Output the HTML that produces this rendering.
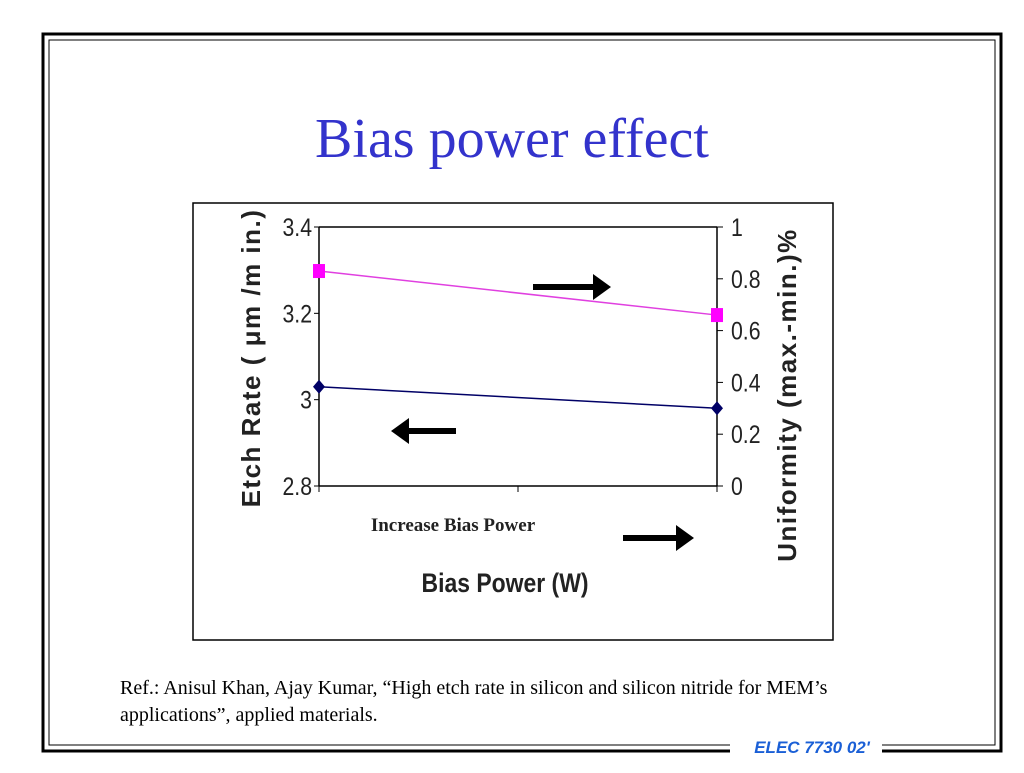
<!DOCTYPE html>
<html><head><meta charset="utf-8"><style>
body{margin:0;width:1024px;height:768px;background:#fff;overflow:hidden;font-family:"Liberation Sans",sans-serif}
</style></head><body>
<svg width="1024" height="768">
<rect x="43" y="34" width="958" height="717" fill="none" stroke="#000" stroke-width="3"/>
<rect x="49" y="40" width="946" height="705" fill="none" stroke="#000" stroke-width="1"/>
<rect x="730" y="738" width="152" height="20" fill="#fff"/>
<text x="812" y="753" text-anchor="middle" font-size="17" font-weight="bold" font-style="italic" fill="#1a5fd6">ELEC 7730 02'</text>
<text x="512" y="157" text-anchor="middle" font-family="Liberation Serif,serif" font-size="56" fill="#3333cc">Bias power effect</text>
<rect x="193" y="203" width="640" height="437" fill="none" stroke="#000" stroke-width="1.5"/>
<g id="chart"></g>
<text font-family="Liberation Serif,serif" font-size="20" fill="#000"><tspan x="120" y="694">Ref.: Anisul Khan, Ajay Kumar, “High etch rate in silicon and silicon nitride for MEM’s</tspan><tspan x="120" y="721">applications”, applied materials.</tspan></text>
</svg>
<script>
const categories=["Low","High"];
const etchRate=[3.03,2.98];
const uniformity=[0.83,0.66];
const leftTicks=[2.8,3.0,3.2,3.4];
const leftTickLabels=["2.8","3","3.2","3.4"];
const rightTicks=[0,0.2,0.4,0.6,0.8,1];
const rightTickLabels=["0","0.2","0.4","0.6","0.8","1"];
const NS="http://www.w3.org/2000/svg";
const g=document.getElementById('chart');
const X0=319,X1=717,YT=227,YB=486;
const xs=i=>X0+(X1-X0)*i/(categories.length-1);
const yl=v=>YB-(v-2.8)/(3.4-2.8)*(YB-YT);
const yr=v=>YB-v*(YB-YT);
function mk(t,a){const e=document.createElementNS(NS,t);for(const k in a)e.setAttribute(k,a[k]);g.appendChild(e);return e;}
let e;
e=mk('line',{x1:X0,y1:YT,x2:X1,y2:YT,stroke:'#000','stroke-width':1.5});


e=mk('line',{x1:X0,y1:YT,x2:X0,y2:YB,stroke:'#000','stroke-width':1.5});


e=mk('line',{x1:X1,y1:YT,x2:X1,y2:YB,stroke:'#000','stroke-width':1.5});


e=mk('line',{x1:X0,y1:YB,x2:X1,y2:YB,stroke:'#000','stroke-width':1.5});


[X0,(X0+X1)/2,X1].forEach(x=>{e=mk('line',{x1:x,y1:YB,x2:x,y2:YB+6,stroke:'#000'});

});
leftTicks.forEach((v,i)=>{const y=yl(v);
e=mk('line',{x1:X0-5,y1:y,x2:X0,y2:y,stroke:'#000'});


e=mk('text',{x:0,y:0,transform:`translate(${X0-7},${y+9}) scale(0.85,1)`,'text-anchor':'end','font-size':25,fill:'#222'});e.textContent=leftTickLabels[i];

});
rightTicks.forEach((v,i)=>{const y=yr(v);
e=mk('line',{x1:X1,y1:y,x2:X1+6,y2:y,stroke:'#000'});


e=mk('text',{x:0,y:0,transform:`translate(${X1+14},${y+9}) scale(0.85,1)`,'font-size':25,fill:'#222'});e.textContent=rightTickLabels[i];

});
e=mk('polyline',{points:uniformity.map((v,i)=>xs(i)+','+yr(v)).join(' '),fill:'none',stroke:'#e040e0','stroke-width':1.5});


uniformity.forEach((v,i)=>{e=mk('rect',{x:xs(i)-6,y:yr(v)-7,width:12,height:14,fill:'#ff00ff'});

});
e=mk('polyline',{points:etchRate.map((v,i)=>xs(i)+','+yl(v)).join(' '),fill:'none',stroke:'#000066','stroke-width':1.5});


etchRate.forEach((v,i)=>{const x=xs(i),y=yl(v);e=mk('polygon',{points:`${x},${y-7} ${x+6},${y} ${x},${y+7} ${x-6},${y}`,fill:'#000066'});

});
function arrow(x1,x2,y,name){const d=x2>x1?1:-1;
e=mk('path',{d:`M${x1},${y-3} L${x2-d*18},${y-3} L${x2-d*18},${y-13} L${x2},${y} L${x2-d*18},${y+13} L${x2-d*18},${y+3} L${x1},${y+3} Z`,fill:'#000'});

}
arrow(533,611,287,'right-axis-arrow');
arrow(456,391,431,'left-axis-arrow');
arrow(623,694,538,'increase-arrow');
e=mk('text',{x:453,y:531,'text-anchor':'middle','font-family':'Liberation Serif,serif','font-weight':'bold','font-size':19,fill:'#222'});e.textContent='Increase Bias Power';


e=mk('text',{x:0,y:0,transform:'translate(505,592) scale(0.85,1)','text-anchor':'middle','font-size':27,'font-weight':'bold',fill:'#222'});e.textContent='Bias Power (W)';


e=mk('text',{x:0,y:0,transform:'translate(260,358) rotate(-90)','text-anchor':'middle','font-size':26,'font-weight':'bold','letter-spacing':1.5,fill:'#222'});e.textContent='Etch Rate ( μm /m in.)';


e=mk('text',{x:0,y:0,transform:'translate(796,395) rotate(-90)','text-anchor':'middle','font-size':26,'font-weight':'bold','letter-spacing':1.5,fill:'#222'});e.textContent='Uniformity (max.-min.)%';


</script>
</body></html>
